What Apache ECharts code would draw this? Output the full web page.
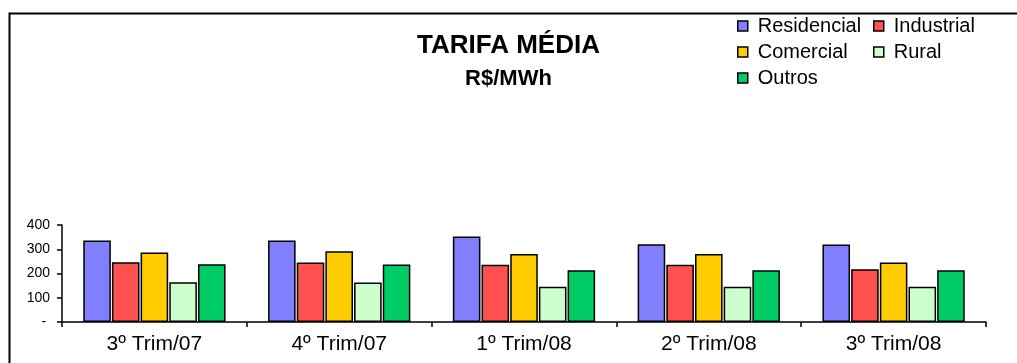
<!DOCTYPE html>
<html>
<head>
<meta charset="utf-8">
<title>Tarifa Média</title>
<script src="https://cdn.jsdelivr.net/npm/echarts/dist/echarts.min.js"></script>
<style>
    html, body { margin: 0; padding: 0; background: #fff; }
    #main { width: 1017px; height: 363px; }
</style>
</head>
<body>
<div id="main"></div>
<script>
// 数据
var categories = ['3º Trim/07', '4º Trim/07', '1º Trim/08', '2º Trim/08', '3º Trim/08'];
var residencial = [336, 336, 353, 321, 320];
var industrial = [246, 245, 236, 236, 218];
var comercial = [287, 292, 280, 280, 245];
var rural = [164, 163, 145, 145, 145];
var outros = [238, 237, 213, 213, 213];
var yTickLabels = ['- ', '100', '200', '300', '400'];

var FONT = '"Liberation Sans", Arial, sans-serif';

function barSerie (name, color, data) {
    return {
        name: name,
        type: 'bar',
        barGap: '4%',
        barCategoryGap: '23%',
        itemStyle: {
            color: color,
            borderColor: '#000',
            borderWidth: 1.5
        },
        data: data
    };
}

function legendBox (left, data) {
    return {
        orient: 'vertical',
        left: left,
        top: 16,
        padding: 0,
        itemGap: 6,
        itemWidth: 10,
        itemHeight: 10,
        icon: 'rect',
        itemStyle: { borderColor: '#000', borderWidth: 1.5 },
        textStyle: {
            color: '#000',
            fontFamily: FONT,
            fontSize: 20,
            lineHeight: 20,
            padding: [0, 0, 0, 5]
        },
        data: data
    };
}

function drawChart (id) {
    var myChart = echarts.init(document.getElementById(id));
    var option = {
        animation: false,
        backgroundColor: '#fff',
        title: {
            text: 'TARIFA MÉDIA',
            subtext: 'R$/MWh',
            left: 'center',
            top: 33,
            itemGap: 9,
            padding: 0,
            textStyle: {
                color: '#000',
                fontFamily: FONT,
                fontWeight: 'bold',
                fontSize: 26
            },
            subtextStyle: {
                color: '#000',
                fontFamily: FONT,
                fontWeight: 'bold',
                fontSize: 22
            }
        },
        legend: [
            legendBox(737, ['Residencial', 'Comercial', 'Outros']),
            legendBox(873, ['Industrial', 'Rural'])
        ],
        // 外框
        graphic: [{
            type: 'rect',
            left: 7,
            top: 11,
            shape: { width: 1200, height: 500 },
            style: { fill: null, stroke: '#000', lineWidth: 2 },
            silent: true
        }],
        grid: {
            left: 62,
            right: 31,
            top: 225,
            bottom: 41,
            outerBoundsMode: 'none'
        },
        xAxis: {
            type: 'category',
            data: categories,
            axisLine: { lineStyle: { color: '#000', width: 1.5 } },
            axisTick: { show: true, length: 5, lineStyle: { color: '#000', width: 1.5 } },
            axisLabel: {
                interval: 0,
                margin: 12,
                color: '#000',
                fontFamily: FONT,
                fontSize: 21
            }
        },
        yAxis: {
            type: 'value',
            min: 0,
            max: 400,
            interval: 100,
            splitLine: { show: false },
            axisLine: { show: true, lineStyle: { color: '#000', width: 1.5 } },
            axisTick: { show: true, length: 5, lineStyle: { color: '#000', width: 1.5 } },
            axisLabel: {
                margin: 12,
                color: '#000',
                fontFamily: FONT,
                fontSize: 14,
                formatter: function (value, index) {
                    return yTickLabels[index];
                }
            }
        },
        series: [
            barSerie('Residencial', '#8080ff', residencial),
            barSerie('Industrial', '#ff5050', industrial),
            barSerie('Comercial', '#ffcc00', comercial),
            barSerie('Rural', '#ccffcc', rural),
            barSerie('Outros', '#00cc66', outros)
        ]
    };
    myChart.setOption(option);
}

drawChart('main');
</script>
</body>
</html>
